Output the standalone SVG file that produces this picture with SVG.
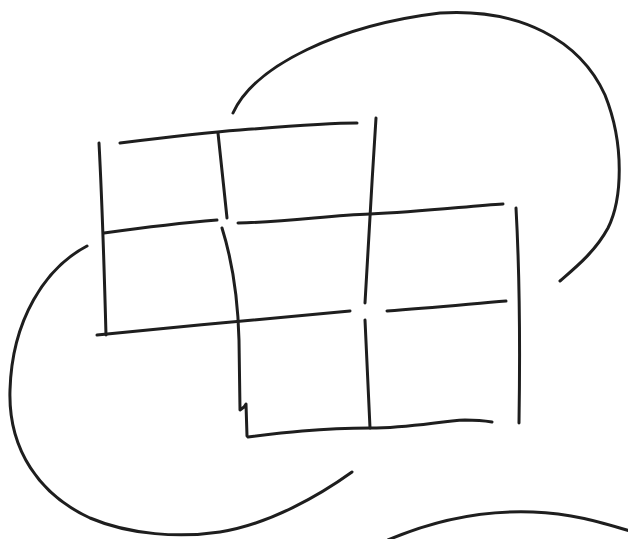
<svg xmlns="http://www.w3.org/2000/svg" width="628" height="539" viewBox="0 0 628 539">
<style>
.s{fill:none;stroke:#1e1e1e;stroke-width:3;stroke-linecap:round;stroke-linejoin:round}
</style>
<rect width="628" height="539" fill="#ffffff"/>
<g id="knot">
<path class="s" d="M120,143 C160,138 200,133 240,130 C290,126 330,123 357,123"/>
<path class="s" d="M99,143 C102,200 104,260 106,335"/>
<path class="s" d="M218,133 C221,160 224,190 227,218"/>
<path class="s" d="M104,233 C140,228 180,223 217,220"/>
<path class="s" d="M238,223 C290,222 330,215 370,214 C420,212 470,206 503,204"/>
<path class="s" d="M376,118 C372,180 368,250 365,303"/>
<path class="s" d="M97,335 C180,327 270,318 350,311"/>
<path class="s" d="M222,228 C232,260 238,300 239,340 L240,410 L244,407 L246,404 L247,436"/>
<path class="s" d="M248,437 C280,433 320,428 370,428 C410,428 440,421 465,420 C478,420 486,421 492,422"/>
<path class="s" d="M387,311 C430,308 470,304 506,301"/>
<path class="s" d="M365,320 C367,360 369,400 370,428"/>
<path class="s" d="M516,208 C520,280 520,360 519,423"/>
<path class="s" d="M233,113 C255,65 340,25 440,13 C520,8 580,40 605,95 C625,145 622,200 608,228 C595,252 575,268 560,281"/>
<path class="s" d="M87,246 C45,268 12,320 10,390 C8,450 40,495 90,518 C130,535 180,538 220,532 C270,524 320,495 352,472"/>
<path class="s" d="M388,540 C430,522 480,510 533,512 C570,513 600,522 630,531"/>
</g>
</svg>
